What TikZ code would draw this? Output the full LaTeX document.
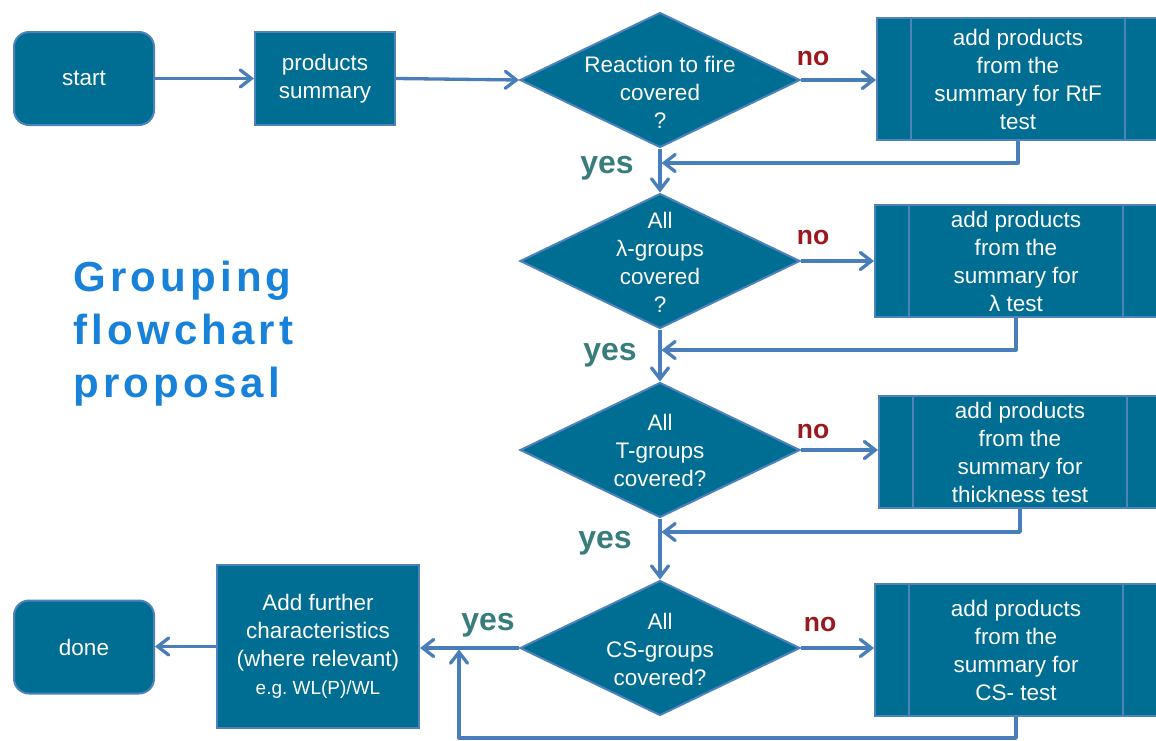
\documentclass[tikz,border=0pt]{standalone}
\usepackage{fontspec}
\setmainfont{Liberation Sans}
\newfontfamily\titlefont[LetterSpace=10]{Liberation Sans}
\usetikzlibrary{shapes.geometric,arrows.meta}
\definecolor{boxfill}{RGB}{0,109,146}
\definecolor{edgeblue}{RGB}{79,129,189}
\definecolor{linecol}{RGB}{74,126,187}
\definecolor{nored}{RGB}{155,25,30}
\definecolor{yesgreen}{RGB}{56,124,124}
\definecolor{titleblue}{RGB}{24,130,218}
\tikzset{
  flow/.style={draw=edgeblue, line width=2pt, fill=boxfill, text=white,
    font=\fontsize{22.5}{28}\selectfont, align=center, inner sep=0pt},
  term/.style={flow, rounded corners=15pt, minimum width=140pt, minimum height=93pt},
  proc/.style={flow, minimum width=140pt, minimum height=93pt},
  pproc/.style={flow, minimum width=282pt},
  dec/.style={flow, diamond, minimum width=280pt, minimum height=135pt},
  dtext/.style={text=white, font=\fontsize{22.5}{28}\selectfont, align=center, inner sep=0pt},
  inner/.style={draw=edgeblue, line width=2pt},
  arr/.style={draw=linecol, line width=3.3pt, line join=round,
    -{Straight Barb[length=11pt,width=17pt,line cap=round]}},
  nolab/.style={text=nored, font=\bfseries\fontsize{26.5}{30}\selectfont, inner sep=0pt},
  yeslab/.style={text=yesgreen, font=\bfseries\fontsize{32}{36}\selectfont, inner sep=0pt, text depth=0pt},
  ttl/.style={text=titleblue, font=\titlefont\bfseries\fontsize{42}{53}\selectfont, align=left, inner sep=0pt}
}
\begin{document}
\begin{tikzpicture}[x=1pt,y=-1pt]
\useasboundingbox (0,0) rectangle (1156,740);
% title
\node[ttl, anchor=west] (title) at (73,334) {Grouping\\flowchart\\proposal};
% top row
\node[term] (start) at (84,78.5) {start};
\node[proc] (ps) at (325,78.5) {products\\summary};
% decisions
\node[dec] (d1) at (660,80) {};
\node[dtext] (t1) at (660,92) {Reaction to fire\\covered\\?};
\node[dec] (d2) at (660,261) {};
\node[dtext] (t2) at (660,262) {All\\λ-groups\\covered\\?};
\node[dec] (d3) at (660,450) {};
\node[dtext] (t3) at (660,450) {All\\T-groups\\covered?};
\node[dec] (d4) at (660,648) {};
\node[dtext] (t4) at (660,649) {All\\CS-groups\\covered?};
% predefined process boxes
\node[pproc, minimum height=122pt] (b1) at (1018,79) {add products\\from the\\summary for RtF\\test};
\node[pproc, minimum height=112pt] (b2) at (1016,261) {add products\\from the\\summary for\\λ test};
\node[pproc, minimum height=112pt] (b3) at (1020,452) {add products\\from the\\summary for\\thickness test};
\node[pproc, minimum height=132pt] (b4) at (1016,650) {add products\\from the\\summary for\\CS- test};
\foreach \b in {b1,b2,b3,b4}{
  \draw[inner] ([xshift=35pt]\b.north west) -- ([xshift=35pt]\b.south west);
  \draw[inner] ([xshift=-35pt]\b.north east) -- ([xshift=-35pt]\b.south east);
}
% bottom row
\node[proc, minimum width=202pt, minimum height=163pt] (add) at (318,646.5)
  {Add further\\characteristics\\(where relevant)\\{\fontsize{19}{24}\selectfont e.g.\ WL(P)/WL}};
\node[term] (done) at (84,647) {done};
% labels
\node[nolab] (no1) at (813,58.5) {no};
\node[nolab] (no2) at (813,237) {no};
\node[nolab] (no3) at (813,431.5) {no};
\node[nolab] (no4) at (820,624) {no};
\node[yeslab] (yes1) at (607,165) {yes};
\node[yeslab] (yes2) at (610,352) {yes};
\node[yeslab] (yes3) at (605,540) {yes};
\node[yeslab] (yes4) at (488,622) {yes};
% connectors
\draw[arr] (start) -- (ps);
\draw[arr] (ps.east) -- (d1.west);
\draw[arr] (d1.east) -- (d1.east -| b1.west);
\draw[arr] (d2.east) -- (d2.east -| b2.west);
\draw[arr] (d3.east) -- (d3.east -| b3.west);
\draw[arr] (d4.east) -- (d4.east -| b4.west);
\draw[arr] (d1.south) -- (d2.north);
\draw[arr] (d2.south) -- (d3.north);
\draw[arr] (d3.south) -- (d4.north);
\coordinate (r1) at (661.5,163);
\coordinate (r2) at (661.5,350);
\coordinate (r3) at (661.5,532);
\draw[arr] (b1.south) |- (r1);
\draw[arr] (b2.south) |- (r2);
\draw[arr] (b3.south) |- (r3);
\draw[arr] (d4.west) -- (d4.west -| add.east);
\draw[arr] (add.west) -- (add.west -| done.east);
\coordinate (l1) at (459,738);
\coordinate (l2) at (459,649.5);
\draw[arr] (b4.south) |- (l1) -- (l2);
\end{tikzpicture}
\end{document}
